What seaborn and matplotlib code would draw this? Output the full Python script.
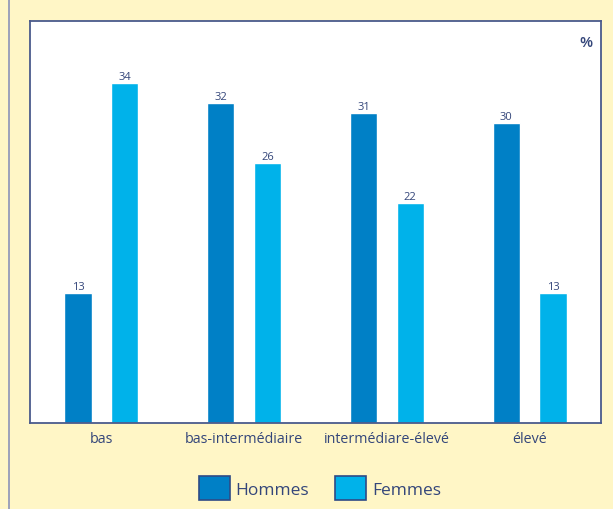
import pandas as pd
import numpy as np
import matplotlib
matplotlib.use("Agg")
import matplotlib.pyplot as plt
from matplotlib.patches import Patch
import seaborn as sns

categories = ['bas', 'bas-intermédiaire', 'intermédiare-élevé', 'élevé']
hommes = [13, 32, 31, 30]
femmes = [34, 26, 22, 13]
series = ['Hommes', 'Femmes']

df = pd.DataFrame({
    'niveau': categories * 2,
    'sexe': ['Hommes'] * 4 + ['Femmes'] * 4,
    'valeur': hommes + femmes,
})

sns.set_theme(style='white')
plt.rcParams['font.family'] = ['Open Sans', 'DejaVu Sans']

bg = '#FFF6C6'
txt = '#34467A'
edge = '#4A5A8C'
palette = {'Hommes': '#0080C6', 'Femmes': '#00B2EA'}

fig = plt.figure(figsize=(6.13, 5.10), dpi=100, facecolor=bg)
ax = fig.add_axes([30 / 613, 1 - 424 / 510, 571 / 613, 402 / 510])
ax.set_facecolor('white')

sns.barplot(data=df, x='niveau', y='valeur', hue='sexe', order=categories,
            hue_order=series, palette=palette, width=0.656, gap=0.42,
            saturation=1, legend=False, ax=ax)

for cont in ax.containers:
    ax.bar_label(cont, fmt='%d', padding=1, fontsize=8, color=txt)

ax.set_xlim(-0.5, 3.5)
ax.set_ylim(0, 40.2)
ax.set_yticks([])
ax.set_xlabel('')
ax.set_ylabel('')
ax.tick_params(axis='x', length=0, pad=6, labelsize=10.3, colors=txt)
for s in ax.spines.values():
    s.set_color(edge)
    s.set_linewidth(1.3)

ax.text(0.985, 0.965, '%', transform=ax.transAxes, ha='right', va='top',
        fontsize=11, fontweight='semibold', color=txt)

# bordure gauche du cadre
fig.add_artist(plt.Line2D([9 / 613, 9 / 613], [0, 1], transform=fig.transFigure,
                          color='#8C93B8', lw=1.2))

handles = [Patch(facecolor=palette[s], edgecolor='#2E4A86', lw=1.2, label=s) for s in series]
fig.legend(handles=handles, loc='center', bbox_to_anchor=(320 / 613, 1 - 489 / 510),
           ncol=2, frameon=False, fontsize=12.5, labelcolor=txt,
           handlelength=1.75, handleheight=1.75, handletextpad=0.35, columnspacing=1.5)

fig.savefig('out.png', dpi=100, facecolor=bg)
